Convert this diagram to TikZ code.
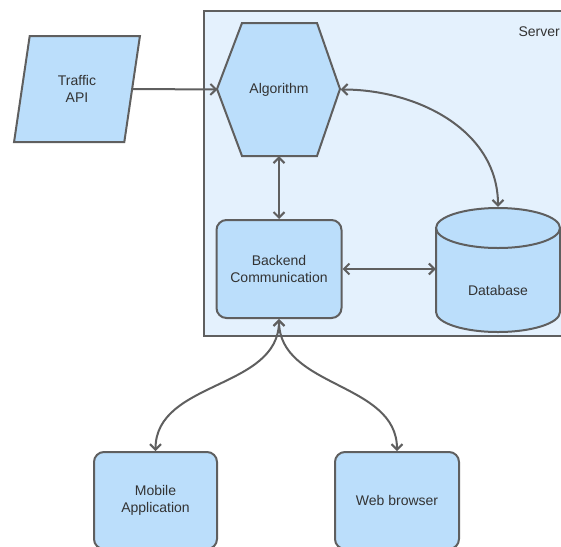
\documentclass[tikz,border=0pt]{standalone}
\usepackage{fontspec}
\setmainfont{Liberation Sans}
\usetikzlibrary{arrows.meta,shapes.geometric}
\definecolor{nodefill}{HTML}{BBDEFB}
\definecolor{serverfill}{HTML}{E4F1FD}
\definecolor{edge}{HTML}{5F5F5F}
\definecolor{txt}{HTML}{333333}
\tikzset{
  every node/.style={font=\fontsize{14}{16.5}\selectfont, text=txt, align=center},
  shapeline/.style={draw=edge, line width=2pt, fill=nodefill},
  roundbox/.style={shapeline, rectangle, rounded corners=10pt},
  anchorbox/.style={rectangle, inner sep=0pt},
  conn/.style={draw=edge, line width=2pt, {Straight Barb[length=5.5pt,width=11pt]}-{Straight Barb[length=5.5pt,width=11pt]}},
  conn1/.style={draw=edge, line width=2pt, -{Straight Barb[length=5.5pt,width=11pt]}}
}
\begin{document}
\begin{tikzpicture}[x=1pt,y=1pt]
\useasboundingbox (0,0) rectangle (561,-546);
% server container
\draw[draw=edge, line width=2pt, fill=serverfill] (204,-11) rectangle (580,-336);
\node[anchor=west] (serverlbl) at (515,-32) {Server};
% Traffic API
\node[shapeline, trapezium, trapezium left angle=76.7, trapezium right angle=103.3,
      trapezium stretches=true, minimum width=126pt, minimum height=106pt, inner sep=0pt]
      (api) at (77,-89) {Traffic\\API};
% Algorithm hexagon
\draw[shapeline] (242,-23) -- (317,-23) -- (340,-89) -- (317,-156) -- (242,-156) -- (217,-89) -- cycle;
\node[anchorbox, minimum width=123pt, minimum height=133pt] (alg) at (279,-89.5) {Algorithm};
% Backend
\node[roundbox, minimum width=125pt, minimum height=98pt] (backend) at (279,-269) {Backend\\Communication};
% Database cylinder
\fill[nodefill] (436,-228) -- (436,-312) arc (180:360:62pt and 20pt) -- (560,-228) arc (0:180:62pt and 20pt) -- cycle;
\draw[draw=edge, line width=2pt] (436,-228) -- (436,-312) arc (180:360:62pt and 20pt) -- (560,-228);
\draw[draw=edge, line width=2pt] (498,-228) ellipse (62pt and 20pt);
\node[anchorbox, minimum width=124pt, minimum height=124pt] (db) at (498,-269) {};
\node (dblbl) at (498,-290) {Database};
% Clients
\node[roundbox, minimum width=123pt, minimum height=97pt] (mobile) at (155.5,-500.5) {Mobile\\Application};
\node[roundbox, minimum width=124pt, minimum height=97pt] (web) at (397,-500.5) {Web browser};
% connectors
\draw[conn1] (api.east) -- (alg.west);
\draw[conn] (alg.south) -- (backend.north);
\draw[conn] (alg.east) to[out=0, in=90] (db.north);
\draw[conn] (backend.east) -- (db.west);
\draw[conn] (backend.south) to[out=-90, in=90] (mobile.north);
\draw[conn] (backend.south) to[out=-90, in=90] (web.north);
\end{tikzpicture}
\end{document}
